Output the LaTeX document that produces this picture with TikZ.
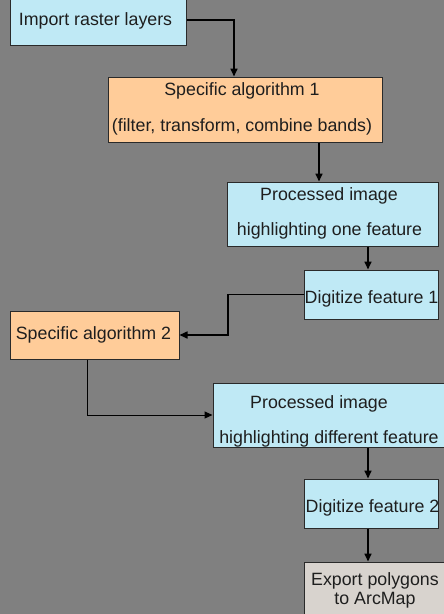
\documentclass[tikz,border=0pt]{standalone}
\usepackage{fontspec}
\setmainfont{Liberation Sans}
\usetikzlibrary{arrows.meta}
\definecolor{bg}{HTML}{808080}
\definecolor{cyanbox}{HTML}{BFE9F5}
\definecolor{orangebox}{HTML}{FFCC99}
\definecolor{greybox}{HTML}{D8D3CE}
\definecolor{edge}{HTML}{2A2A2A}
\definecolor{ink}{HTML}{1E1E1E}
\begin{document}
\begin{tikzpicture}[x=1pt,y=-1pt,
  box/.style={draw=edge, line width=1pt, inner sep=0pt},
  lbl/.style={anchor=base, inner sep=0pt, text=ink,
              font=\fontsize{17.8}{21}\selectfont},
  arr/.style={draw=black, line width=1.6pt,
              -{Triangle[length=8pt,width=7pt]}},
  thinarr/.style={draw=black, line width=1pt,
              -{Triangle[length=8pt,width=7pt]}}]
\clip (0,0) rectangle (444,614);
\fill[bg] (0,0) rectangle (444,614);

% boxes
\node[box, fill=cyanbox,   minimum width=176pt, minimum height=50pt] (b1) at (98,20) {};
\node[box, fill=orangebox, minimum width=274pt, minimum height=65pt] (b2) at (245,109.5) {};
\node[box, fill=cyanbox,   minimum width=211pt, minimum height=64pt] (b3) at (332.5,214) {};
\node[box, fill=cyanbox,   minimum width=134pt, minimum height=49pt] (b4) at (371,294.5) {};
\node[box, fill=orangebox, minimum width=169pt, minimum height=48pt] (b5) at (94.5,335) {};
\node[box, fill=cyanbox,   minimum width=247pt, minimum height=64pt] (b6) at (336.5,415) {};
\node[box, fill=cyanbox,   minimum width=134pt, minimum height=49pt] (b7) at (371,503.5) {};
\node[box, fill=greybox,   minimum width=156pt, minimum height=68pt] (b8) at (382,596) {};

% labels
\node[lbl] (t1)  at (95.5,25.7) {Import raster layers};
\node[lbl] (t2a) at (242,95.7)  {Specific algorithm 1};
\node[lbl] (t2b) at (242,131)   {(filter, transform, combine bands)};
\node[lbl] (t3a) at (329,200)   {Processed image};
\node[lbl] (t3b) at (329.5,235) {highlighting one feature};
\node[lbl] (t4)  at (371.5,303.3) {Digitize feature 1};
\node[lbl] (t5)  at (93.5,339)  {Specific algorithm 2};
\node[lbl] (t6a) at (319,408)   {Processed image};
\node[lbl] (t6b) at (329,443)   {highlighting different feature};
\node[lbl] (t7)  at (372.5,512.7) {Digitize feature 2};
\node[lbl] (t8a) at (375,585.7) {Export polygons};
\node[lbl] (t8b) at (375,604)   {to ArcMap};

% vertical guide positions for connectors
\coordinate (x234) at (234,0);
\coordinate (x319) at (319,0);
\coordinate (x368) at (368,0);
\coordinate (x228) at (228,0);
\coordinate (x87)  at (87,0);

% connectors
\draw[arr] (b1.east) -| (b2.north -| x234);
\draw[arr] (b2.south -| x319) -- (b3.north -| x319);
\draw[arr] (b3.south -| x368) -- (b4.north -| x368);
\draw[arr] (b4.west) -| (x228 |- b5.east) -- (b5.east);
\draw[thinarr] (b5.south -| x87) |- (b6.west);
\draw[arr] (b6.south -| x368) -- (b7.north -| x368);
\draw[arr] (b7.south -| x368) -- (b8.north -| x368);
\end{tikzpicture}
\end{document}
